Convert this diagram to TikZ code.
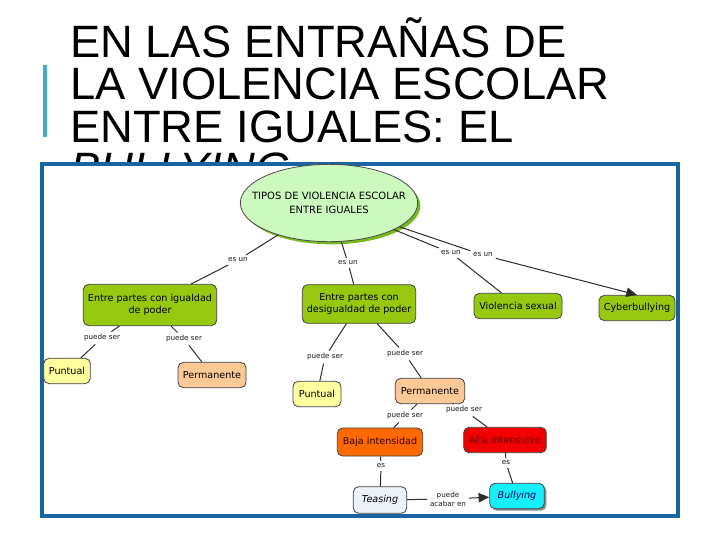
\documentclass[tikz,border=0pt]{standalone}
\usepackage{fontspec}
\setmainfont{Liberation Sans}
\newfontfamily\mapfont{DejaVu Sans}
\usetikzlibrary{positioning,shapes.geometric,arrows.meta,shadows}
\definecolor{framecolor}{RGB}{25,100,160}
\definecolor{barcolor}{RGB}{65,170,210}
\definecolor{rootcolor}{RGB}{204,250,190}
\definecolor{rootshadow}{RGB}{120,185,30}
\definecolor{typecolor}{RGB}{150,200,15}
\definecolor{puntcolor}{RGB}{255,255,160}
\definecolor{permcolor}{RGB}{252,200,150}
\definecolor{lowcolor}{RGB}{255,105,0}
\definecolor{highcolor}{RGB}{240,0,0}
\definecolor{teasecolor}{RGB}{236,243,248}
\definecolor{bullycolor}{RGB}{20,240,250}
\definecolor{linkcolor}{RGB}{45,45,45}

\begin{document}
\begin{tikzpicture}[
    x=0.75pt, y=-0.75pt,
    titleline/.style={anchor=base west, inner sep=0pt, font=\fontsize{34}{32}\selectfont},
    concept/.style={rectangle, draw=black!75, line width=0.6pt, rounded corners=4pt, align=center,
        font=\mapfont\fontsize{7.2}{8.8}\selectfont, inner xsep=3pt, inner ysep=2pt, minimum height=19pt},
    root/.style={ellipse, draw=black!70, line width=0.6pt, fill=rootcolor, align=center, inner sep=0pt,
        font=\mapfont\fontsize{7.5}{10}\selectfont, minimum width=133pt, minimum height=58pt,
        drop shadow={shadow xshift=2pt, shadow yshift=-2pt, fill=rootshadow, opacity=1}},
    kind/.style={concept, fill=typecolor},
    punt/.style={concept, fill=puntcolor},
    perm/.style={concept, fill=permcolor},
    linklabel/.style={font=\mapfont\fontsize{5.4}{6.6}\selectfont, text=black!90, align=center, inner sep=2pt},
    link/.style={draw=linkcolor, line width=0.75pt},
    arrow/.style={link, -{Triangle[length=8pt, width=7pt]}}
]
\useasboundingbox (0,0) rectangle (720,540);

% ===== TITLE =====
\draw[barcolor, line width=2.3pt] (45,65) -- (45,137);
\node[titleline] (title1) at (70,57) {EN LAS ENTRAÑAS DE};
\node[titleline] (title2) at (70,99.5) {LA VIOLENCIA ESCOLAR};
\node[titleline] (title3) at (70,142) {ENTRE IGUALES: EL};
\node[titleline] (title4) at (70,184.5) {\itshape BULLYING};

% ===== PICTURE FRAME =====
\draw[framecolor, line width=2.3pt, fill=white] (42,164) rectangle (678,516);

% ===== CONCEPTS =====
\node[root] (root) at (329,203) {\makebox[88pt]{TIPOS DE VIOLENCIA ESCOLAR}\\\makebox[88pt]{ENTRE IGUALES}};

\node[kind, minimum width=100pt, minimum height=31pt] (eq_power) at (150,305) {Entre partes con igualdad\\de poder};
\node[kind, minimum width=85pt, minimum height=29pt] (uneq_power) at (359,304) {Entre partes con\\desigualdad de poder};
\node[kind, minimum width=66pt] (sex_viol) at (518,306) {Violencia sexual};
\node[kind, minimum width=57pt] (cyber) at (637,308) {Cyberbullying};

\node[punt, minimum width=35pt] (punt_left) at (67,371) {Puntual};
\node[perm, minimum width=51pt] (perm_left) at (212,375) {Permanente};
\node[punt, minimum width=36pt] (punt_mid) at (317,394) {Puntual};
\node[perm, minimum width=52pt] (perm_mid) at (430,391) {Permanente};

\node[concept, fill=lowcolor, text=black!80!red, minimum width=64pt, minimum height=21pt] (low_int) at (380,442) {Baja intensidad};
\node[concept, fill=highcolor, text=red!45!black, minimum width=62pt] (high_int) at (505,440) {Alta intensidad};
\node[concept, fill=teasecolor, minimum width=40pt, minimum height=20pt, font=\mapfont\itshape\fontsize{7.2}{8.8}\selectfont] (teasing) at (380,500) {Teasing};
\node[concept, fill=bullycolor, text=blue!40!black, minimum width=41pt, font=\mapfont\itshape\fontsize{7.2}{8.8}\selectfont,
    drop shadow={shadow xshift=1.5pt, shadow yshift=-1.5pt, fill=black!45, opacity=1}] (bullying) at (517,496) {Bullying};

% ===== LINK LABELS =====
\node[linklabel] (es_a) at (238,260) {es un};
\node[linklabel] (es_b) at (348,263) {es un};
\node[linklabel] (es_c) at (451,253) {es un};
\node[linklabel] (es_d) at (483,255) {es un};
\node[linklabel] (ps_a) at (102,338) {puede ser};
\node[linklabel] (ps_b) at (184,339) {puede ser};
\node[linklabel] (ps_c) at (325,357) {puede ser};
\node[linklabel] (ps_d) at (405,354) {puede ser};
\node[linklabel] (ps_e) at (405,416) {puede ser};
\node[linklabel] (ps_f) at (464,410) {puede ser};
\node[linklabel] (es_low) at (381,466) {es};
\node[linklabel] (es_high) at (506,463) {es};
\node[linklabel] (may_end) at (448,499) {puede\\acabar en};

% ===== LINKS =====
\draw[link] (root) -- (es_a);
\draw[link] (es_a) -- (eq_power);
\draw[link] (root) -- (es_b);
\draw[link] (es_b) -- (uneq_power);
\draw[link] (root) -- (es_c);
\draw[link] (es_c) -- (sex_viol);
\draw[link] (root) -- (es_d);
\draw[arrow] (es_d) -- (cyber.north);

\draw[link] (eq_power) -- (ps_a);
\draw[link] (ps_a) -- (punt_left);
\draw[link] (eq_power) -- (ps_b);
\draw[link] (ps_b) -- (perm_left);
\draw[link] (uneq_power) -- (ps_c);
\draw[link] (ps_c) -- (punt_mid);
\draw[link] (uneq_power) -- (ps_d);
\draw[link] (ps_d) -- (perm_mid);

\draw[link] (perm_mid) -- (ps_e);
\draw[link] (ps_e) -- (low_int);
\draw[link] (perm_mid) -- (ps_f);
\draw[link] (ps_f) -- (high_int);

\draw[link] (low_int) -- (es_low);
\draw[link] (es_low) -- (teasing);
\draw[link] (high_int) -- (es_high);
\draw[link] (es_high) -- (bullying);
\draw[link] (teasing) -- (may_end);
\draw[arrow] (may_end) -- (bullying);

\end{tikzpicture}
\end{document}
